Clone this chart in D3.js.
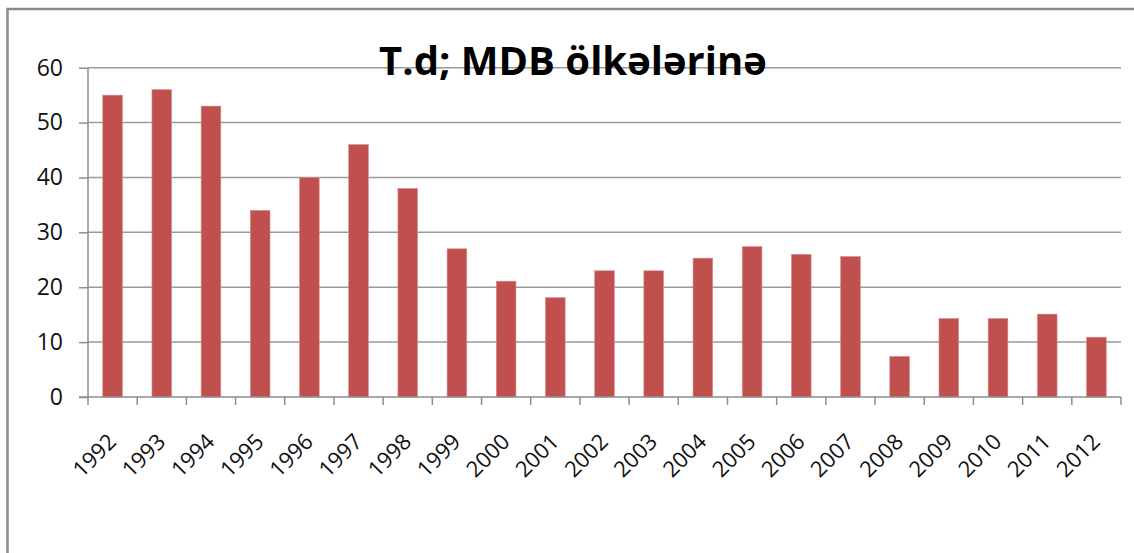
<!DOCTYPE html>
<html>
<head>
<meta charset="utf-8">
<script src="https://cdn.jsdelivr.net/npm/d3@7"></script>
<style>
  body { margin: 0; background: #fff; }
  svg { display: block; }
  .tick text { font-family: "Open Sans", "Liberation Sans", sans-serif; }
</style>
</head>
<body>
<script>
// data
const years = ["1992","1993","1994","1995","1996","1997","1998","1999","2000","2001","2002",
               "2003","2004","2005","2006","2007","2008","2009","2010","2011","2012"];
const values = [55, 56, 53, 34, 40, 46, 38, 27, 21.1, 18.1, 23, 23, 25.3, 27.4, 26, 25.6, 7.4, 14.3, 14.3, 15.1, 10.9];
const yTicks = [0, 10, 20, 30, 40, 50, 60];
const title = "T.d; MDB ölkələrinə";

const w = 1134, h = 553;
const plotLeft = 88, plotRight = 1121, plotTop = 67.7, plotBottom = 397;

const svg = d3.select("body").append("svg")
    .attr("width", w)
    .attr("height", h);

// chart frame (runs off the right and bottom edge)
svg.append("rect")
    .attr("x", 7.5).attr("y", 9)
    .attr("width", 1160).attr("height", 600)
    .style("fill", "none")
    .style("stroke", "#8a8a8a")
    .style("stroke-width", 2.5);

const xScale = d3.scaleBand()
    .domain(years)
    .range([plotLeft, plotRight])
    .paddingInner(0.6)
    .paddingOuter(0.3);

const yScale = d3.scaleLinear()
    .domain([0, 60])
    .range([plotBottom, plotTop]);

// gridlines
svg.append("g")
    .selectAll("line")
    .data(yTicks.slice(1))
    .enter()
    .append("line")
    .attr("x1", plotLeft).attr("x2", plotRight)
    .attr("y1", d => yScale(d)).attr("y2", d => yScale(d))
    .style("stroke", "#9a9a9a")
    .style("stroke-width", 1.5);

// bars
svg.append("g")
    .selectAll("rect")
    .data(values)
    .enter()
    .append("rect")
    .attr("x", (d, i) => xScale(years[i]))
    .attr("y", d => yScale(d))
    .attr("width", xScale.bandwidth())
    .attr("height", d => plotBottom - yScale(d))
    .style("fill", "#C0504D")
    .style("stroke", "#d98f8d")
    .style("stroke-width", 0.6);

// y axis
const yAxis = d3.axisLeft(yScale).tickValues(yTicks).tickSize(9).tickPadding(16);
const gy = svg.append("g")
    .attr("transform", "translate(" + plotLeft + ",0)")
    .call(yAxis);
gy.selectAll("line, path").style("stroke", "#8e8e8e").style("stroke-width", 1.5);
gy.select(".domain").attr("d", "M0," + plotTop + "V" + plotBottom);
gy.selectAll("text").style("font-size", "23px").style("fill", "#111");

// x axis: ticks between categories
const step = xScale.step();
const tickPos = d3.range(years.length + 1).map(i => plotLeft + i * step);
const gx = svg.append("g");
gx.append("line")
    .attr("x1", plotLeft - 9).attr("x2", plotRight)
    .attr("y1", plotBottom).attr("y2", plotBottom)
    .style("stroke", "#8e8e8e").style("stroke-width", 1.5);
gx.selectAll(".xt")
    .data(tickPos)
    .enter()
    .append("line")
    .attr("x1", d => d).attr("x2", d => d)
    .attr("y1", plotBottom).attr("y2", plotBottom + 8)
    .style("stroke", "#8e8e8e").style("stroke-width", 1.5);

gx.selectAll("text")
    .data(years)
    .enter()
    .append("text")
    .attr("transform", d => "translate(" + (xScale(d) + xScale.bandwidth() / 2 + 5) + "," + (plotBottom + 46) + ") rotate(-45)")
    .attr("text-anchor", "end")
    .style("font-family", "'Open Sans', 'Liberation Sans', sans-serif")
    .style("font-size", "22px")
    .style("fill", "#111")
    .text(d => d);

// title, drawn over the top gridline
svg.append("text")
    .attr("x", 573)
    .attr("y", 75)
    .attr("text-anchor", "middle")
    .style("font-family", "'Open Sans', 'Liberation Sans', sans-serif")
    .style("font-weight", "bold")
    .style("font-size", "40px")
    .style("fill", "#000")
    .text(title);
</script>
</body>
</html>
